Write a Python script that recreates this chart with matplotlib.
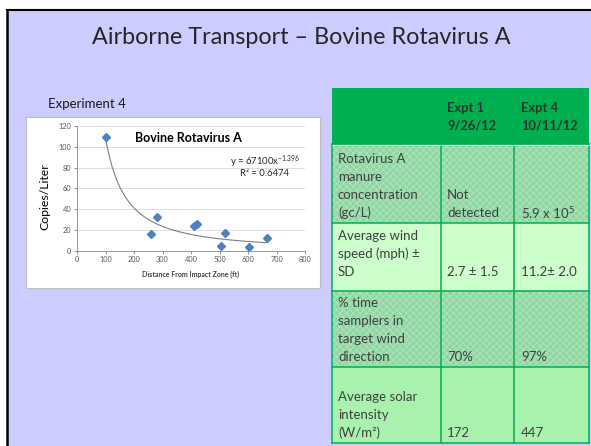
import numpy as np
import matplotlib
matplotlib.use("Agg")
import matplotlib.pyplot as plt
from matplotlib.patches import Rectangle

plt.rcParams['font.family'] = ['Lato', 'DejaVu Sans']
plt.rcParams['mathtext.fontset'] = 'custom'
plt.rcParams['mathtext.rm'] = 'Lato'
plt.rcParams['hatch.linewidth'] = 0.6

# scatter data (Experiment 4)
distance_ft = [100, 260, 282, 409, 421, 507, 519, 604, 666]
copies_per_liter = [109, 16, 32, 24, 25.5, 4.5, 17.5, 3.2, 12.2]

# power trendline as printed on the chart
trend_a = 67100
trend_b = -1.396
trend_r2 = 0.6474

# table contents
col_headers = ["", "Expt 1\n9/26/12", "Expt 4\n10/11/12"]
row_labels = ["Rotavirus A\nmanure\nconcentration\n(gc/L)",
              "Average wind\nspeed (mph) ±\nSD",
              "% time\nsamplers in\ntarget wind\ndirection",
              "Average solar\nintensity\n(W/m²)"]
expt1_vals = ["Not\ndetected", "2.7 ± 1.5", "70%", "172"]
expt4_vals = ["5.9 x 10$^5$", "11.2± 2.0", "97%", "447"]

fig = plt.figure(figsize=(5.91, 4.46), dpi=100)
fig.patch.set_facecolor('white')

# background axes in pixel coordinates
bg = fig.add_axes([0, 0, 1, 1])
bg.set_xlim(0, 591)
bg.set_ylim(446, 0)
bg.axis('off')

# slide
bg.add_patch(Rectangle((8, 10), 600, 450, facecolor='#CCCCFF', edgecolor='none'))
bg.plot([7.2, 7.2], [9, 446], color='black', lw=1.8, solid_capstyle='butt')
bg.plot([6.3, 591], [9.6, 9.6], color='black', lw=1.5, solid_capstyle='butt')

bg.text(301, 38, "Airborne Transport – Bovine Rotavirus A", ha='center', va='center',
        fontsize=16.8, color='#262626')
bg.text(48, 104, "Experiment 4", ha='left', va='center', fontsize=9.5, color='#1a1a1a')

# chart box
bg.add_patch(Rectangle((26, 117), 294, 171, facecolor='white', edgecolor='#BFBFBF', lw=0.8))

# table
col_x = [332, 441, 514, 589]
row_y = [88, 144, 223, 291, 367, 443]
green = '#00B050'
row_colors = ['#8FD6A2', '#CCFFCC', '#8FD6A2', '#A8F2AE']
row_hatched = [True, False, True, False]

bg.add_patch(Rectangle((col_x[0], row_y[0]), col_x[-1] - col_x[0], row_y[1] - row_y[0],
                       facecolor=green, edgecolor='none'))
for i in range(4):
    y0 = row_y[i + 1]
    h = row_y[i + 2] - y0
    bg.add_patch(Rectangle((col_x[0], y0), col_x[-1] - col_x[0], h,
                           facecolor=row_colors[i], edgecolor='none'))
    if row_hatched[i]:
        bg.add_patch(Rectangle((col_x[0], y0), col_x[-1] - col_x[0], h,
                               facecolor='none', edgecolor='#B0E6BD', hatch='xxxxx', lw=0))
# grid lines
for x in col_x:
    bg.plot([x, x], [row_y[1], row_y[-1]], color=green, lw=1.1)
for y in row_y[1:]:
    bg.plot([col_x[0], col_x[-1]], [y, y], color=green, lw=1.1)
bg.plot([col_x[0], col_x[-1]], [row_y[1] + 1.2, row_y[1] + 1.2], color='#DDF5E2', lw=0.6)

line_h = 18
text_x = [338, 447, 521]
last_line_y = [212, 271, 356, 432]

for j, hdr in enumerate(col_headers):
    lines = hdr.split("\n")
    for k, ln in enumerate(lines):
        bg.text(text_x[j], 108 + k * 17, ln, ha='left', va='center', fontsize=9.3,
                fontweight='bold', color='#333333')

for i in range(4):
    for j, cell in enumerate([row_labels[i], expt1_vals[i], expt4_vals[i]]):
        lines = cell.split("\n")
        n = len(lines)
        for k, ln in enumerate(lines):
            bg.text(text_x[j], last_line_y[i] - (n - 1 - k) * line_h, ln, ha='left',
                    va='center_baseline', fontsize=9.5, color='#404040')

# scatter chart
ax = fig.add_axes([77 / 591, 1 - 250.7 / 446, 228 / 591, 124.7 / 446])
ax.set_xlim(0, 800)
ax.set_ylim(0, 120)
ax.set_xticks(range(0, 801, 100))
ax.set_yticks(range(0, 121, 20))
ax.patch.set_alpha(0)
for s in ['top', 'right']:
    ax.spines[s].set_visible(False)
for s in ['left', 'bottom']:
    ax.spines[s].set_color('#868686')
    ax.spines[s].set_linewidth(0.6)
ax.tick_params(length=2, width=0.6, color='#868686', labelsize=5.3, labelcolor='#595959', pad=2)
ax.yaxis.grid(True, color='#D9D9D9', lw=0.6)
ax.set_axisbelow(True)

xs = np.linspace(min(distance_ft), max(distance_ft), 200)
ax.plot(xs, trend_a * xs ** trend_b, color='#7F7F7F', lw=0.8)
ax.plot(distance_ft, copies_per_liter, linestyle='none', marker='D', markersize=3.8,
        color='#4F81BD', markeredgecolor='#4F81BD')

bg.text(188.5, 137.5, "Bovine Rotavirus A", ha='center', va='center', fontsize=9,
        fontweight='bold', color='black')
bg.text(265, 162, "y = %dx$^{%.3f}$" % (trend_a, trend_b), ha='center', va='center',
        fontsize=6.8, color='#262626')
bg.text(265, 174, "R² = %.4f" % trend_r2, ha='center', va='center', fontsize=6.8,
        color='#262626')
bg.text(45, 197, "Copies/Liter", ha='center', va='center', rotation=90, fontsize=8.8,
        color='black')
bg.text(190.5, 274, "Distance From Impact Zone (ft)", ha='center', va='center',
        fontsize=5, fontweight='bold', color='#404040')

fig.savefig("out.png", dpi=100, facecolor=fig.get_facecolor())
